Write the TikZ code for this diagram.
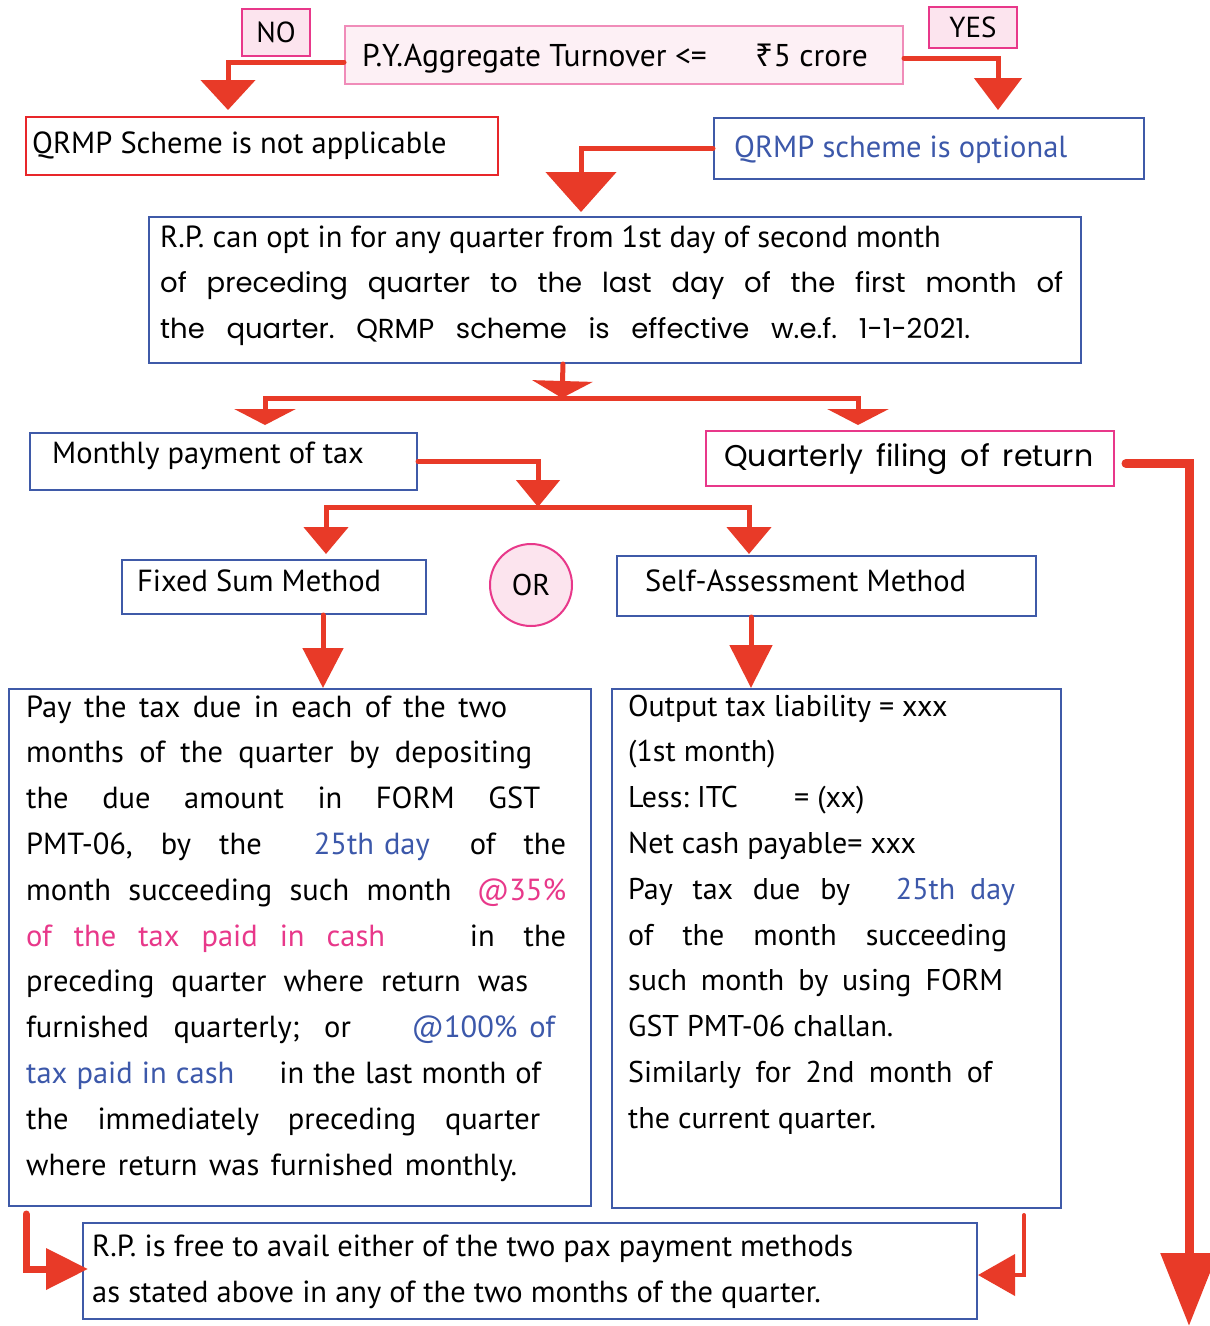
\documentclass[tikz,border=0pt]{standalone}
\usepackage{fontspec}
\setmainfont{PT Sans}
\newfontfamily\comicf{Poppins}
\newfontfamily\rupeef{Noto Sans}
\usetikzlibrary{arrows.meta}

\definecolor{arrowred}{RGB}{232,58,40}
\definecolor{boxblue}{RGB}{63,90,168}
\definecolor{txtblue}{RGB}{60,88,170}
\definecolor{hotpink}{RGB}{232,56,138}
\definecolor{softpink}{RGB}{240,140,185}
\definecolor{pinkfill}{RGB}{252,228,238}
\definecolor{palefill}{RGB}{253,240,245}
\definecolor{boxred}{RGB}{232,38,42}

\newcommand\setfs[2]{\fontsize{#1}{#2}\selectfont}

\begin{document}
\frenchspacing
\begin{tikzpicture}[x=1pt,y=-1pt,
  every node/.style={inner sep=0pt},
  bluebox/.style={draw=boxblue, line width=2pt, anchor=north west},
  tag/.style={draw=hotpink, fill=pinkfill, line width=2pt, anchor=north west, font=\setfs{29}{29}},
  txt/.style={anchor=base west, font=\setfs{30.5}{30.5}},
  conn/.style={draw=arrowred, line width=5pt, line cap=round},
  tipNo/.style={-{Triangle[width=54pt,length=30pt]}, shorten >=6pt},
  tipYes/.style={-{Triangle[width=47pt,length=32pt]}, shorten >=7pt},
  tipOpt/.style={-{Triangle[width=70pt,length=40pt]}, shorten >=4pt},
  tipBar/.style={-{Triangle[width=60pt,length=17pt]}},
  tipSplit/.style={-{Triangle[width=61pt,length=16pt]}},
  tipMon/.style={-{Triangle[width=43pt,length=27pt]}},
  tipMeth/.style={-{Triangle[width=44pt,length=27pt]}},
  tipDown/.style={-{Triangle[width=40pt,length=40pt]}},
  tipDownB/.style={-{Triangle[width=42pt,length=43pt]}},
  tipQ/.style={-{Triangle[width=55pt,length=73pt]}},
  tipBL/.style={-{Triangle[width=40pt,length=42pt]}},
  tipBR/.style={-{Triangle[width=41pt,length=37pt]}},
]
% page background and size
\fill[white] (0,0) rectangle (1210,1326);
\useasboundingbox (0,0) rectangle (1210,1326);

% decision row
\node[tag, minimum width=68pt, minimum height=47pt] (no) at (241,8) {NO};
\node[tag, minimum width=88pt, minimum height=41pt] (yes) at (928,6) {YES};
\node[draw=softpink, fill=palefill, line width=2pt, anchor=north west,
      minimum width=558pt, minimum height=58pt] (cond) at (344,25) {};
\node[txt, font=\setfs{31.5}{31.5}] (condtxt) at (362,66)
  {P.Y.\kern1pt Aggregate Turnover <=\hspace{49pt}{\rupeef ₹}5 crore};

\node[draw=boxred, line width=2pt, anchor=north west,
      minimum width=472pt, minimum height=58pt] (na) at (25,116) {};
\node[txt] (natxt) at (32,153) {QRMP Scheme is not applicable};

\node[bluebox, minimum width=430pt, minimum height=61pt] (opt) at (713,117) {};
\node[txt, text=txtblue] (opttxt) at (734,157) {QRMP scheme is optional};

% opt-in window
\node[bluebox, minimum width=932pt, minimum height=146pt] (rp) at (148,216) {};
\node[txt] (rptxt) at (160,247) {\parbox[t]{910pt}{\setfs{30.5}{45.5}%
R.P. can opt in for any quarter from 1st day of second month\\
{\comicf\setfs{27.5}{45.5}\makebox[903pt][s]{of preceding quarter to the last day of the first month of}}\\
{\comicf\setfs{27.5}{45.5}\makebox[810pt][s]{the quarter. QRMP scheme is effective w.e.f. 1-1-2021.}}}};

% two obligations
\node[bluebox, minimum width=387pt, minimum height=57pt] (mon) at (29,432) {};
\node[txt] (montxt) at (52,463) {Monthly payment of tax};
\node[draw=hotpink, line width=2pt, anchor=north west,
      minimum width=408pt, minimum height=55pt] (qf) at (705,430) {};
\node[txt, font=\comicf\setfs{30}{30}] (qftxt) at (724,466)
  {\makebox[369pt][s]{Quarterly filing of return}};

% two payment methods
\node[bluebox, minimum width=304pt, minimum height=54pt] (fs) at (121,559) {};
\node[txt] (fstxt) at (137,591) {Fixed Sum Method};
\node[circle, draw=hotpink, fill=pinkfill, line width=2pt, minimum size=82pt,
      font=\setfs{30}{30}] (or) at (531,585) {OR};
\node[bluebox, minimum width=419pt, minimum height=60pt] (sa) at (616,555) {};
\node[txt] (satxt) at (645,591) {Self-Assessment Method};

% fixed sum method details
\node[bluebox, minimum width=582pt, minimum height=517pt] (lb) at (8,688) {};
\node[txt] (lbtxt) at (26,717) {\parbox[t]{560pt}{\setfs{30.5}{45.8}%
\makebox[481pt][s]{Pay the tax due in each of the two}\\
\makebox[506pt][s]{months of the quarter by depositing}\\
\makebox[514pt][s]{the due amount in FORM GST}\\
\makebox[540pt][s]{PMT-06, by the\hspace{24pt} \textcolor{txtblue}{25th\hspace{10pt}day}\hspace{12pt} of the}\\
\makebox[540pt][s]{month succeeding such month\hspace{8pt} \textcolor{hotpink}{@35\%}}\\
\makebox[540pt][s]{\textcolor{hotpink}{of\hspace{22pt}the\hspace{22pt}tax\hspace{22pt}paid\hspace{22pt}in\hspace{22pt}cash}\hspace{56pt} in the}\\
\makebox[502pt][s]{preceding quarter where return was}\\
\makebox[529pt][s]{furnished quarterly; or\hspace{36pt} \textcolor{txtblue}{@100\%\hspace{12pt}of}}\\
\makebox[515pt][s]{\textcolor{txtblue}{tax paid in cash}\hspace{36pt} in the last month of}\\
\makebox[514pt][s]{the immediately preceding quarter}\\
\makebox[491pt][s]{where return was furnished monthly.}}};

% self-assessment method details
\node[bluebox, minimum width=449pt, minimum height=519pt] (rb) at (611,688) {};
\node[txt] (rbtxt) at (628,716) {\parbox[t]{420pt}{\setfs{30}{45.8}%
Output tax liability = xxx\\
(1st month)\\
Less: ITC\hspace{48pt} = (xx)\\
Net cash payable= xxx\\
\makebox[387pt][s]{Pay tax due by\hspace{26pt} \textcolor{txtblue}{25th\hspace{15pt}day}}\\
\makebox[379pt][s]{of the month succeeding}\\
\makebox[375pt][s]{such month by using FORM}\\
GST PMT-06 challan.\\
\makebox[364pt][s]{Similarly for 2nd month of}\\
the current quarter.}};

% closing note
\node[bluebox, minimum width=894pt, minimum height=96pt] (fb) at (82,1222) {};
\node[txt] (fbtxt) at (92,1256) {\parbox[t]{880pt}{\setfs{30.5}{46}%
R.P. is free to avail either of the two pax payment methods\\
as stated above in any of the two months of the quarter.}};

% connectors
\draw[conn, tipNo] ([yshift=-7pt]cond.west) -| ([xshift=-34pt]na.north);
\draw[conn, tipYes] ([yshift=-3pt]cond.east) -| ([xshift=69pt]opt.north);
\draw[conn, tipOpt] (opt.west) -| ([xshift=-34pt]rp.north);

\coordinate (j1) at (562,398);
\draw[conn, tipBar] ([xshift=-52pt]rp.south) -- (j1);
\draw[conn, tipSplit, shorten >=7pt] (j1) -| ([xshift=41.5pt]mon.north);
\draw[conn, tipSplit, shorten >=5pt] (j1) -| ([xshift=-52pt]qf.north);

\coordinate (j2) at (538,507);
\draw[conn, tipMon] (mon.east) -| (j2);
\draw[conn, tipMeth, shorten >=5pt] (j2) -| ([xshift=52pt]fs.north);
\draw[conn, tipMeth, shorten >=1pt] (j2) -| ([xshift=-77.5pt]sa.north);

\coordinate (fsout) at ([xshift=49pt]fs.south);
\draw[conn, tipDown] (fsout) -- (fsout |- lb.north);
\coordinate (saout) at ([xshift=-75.5pt]sa.south);
\draw[conn, tipDownB] (saout) -- (saout |- rb.north);

\coordinate (qend) at (1189,1326);
\draw[conn, line width=9pt, tipQ] ([xshift=11pt,yshift=-5pt]qf.east) -| (qend);

\coordinate (bl0) at ([xshift=18pt,yshift=-7pt]lb.south west);
\draw[conn, line width=7pt, tipBL] (bl0) |- ([xshift=6pt,yshift=2pt]fb.west);
\coordinate (br0) at ([xshift=-38pt,yshift=-6pt]rb.south east);
\draw[conn, line width=4pt, tipBR] (br0) |- ([yshift=-4pt]fb.east);
\end{tikzpicture}
\end{document}
